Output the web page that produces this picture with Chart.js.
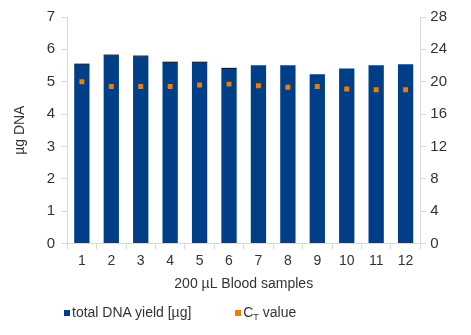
<!DOCTYPE html>
<html>
<head>
<meta charset="utf-8">
<script src="https://cdn.jsdelivr.net/npm/chart.js@4/dist/chart.umd.min.js"></script>
<style>
  html, body { margin: 0; padding: 0; background: #fff; }
  #wrap { position: relative; width: 471px; height: 335px; }
  #legend { position: absolute; left: 64px; top: 304px; font-family: "Liberation Sans", Arial, sans-serif; font-size: 14px; color: #333; white-space: nowrap; }
  #legend span.item { display: inline-block; margin-right: 40px; }
  #legend i { display: inline-block; width: 6px; height: 6px; margin-right: 2px; vertical-align: 1px; }
  #legend sub { font-size: 9px; vertical-align: -3px; }
</style>
</head>
<body>
<div id="wrap">
  <canvas id="c" width="471" height="335"></canvas>
  <div id="legend">
    <span class="item"><i style="background:#003F87"></i>total DNA yield [µg]</span>
    <span class="item"><i style="background:#F07D00"></i>C<sub>T</sub> value</span>
  </div>
</div>
<script>
const categories = ['1','2','3','4','5','6','7','8','9','10','11','12'];
const dnaYield = [5.53, 5.81, 5.78, 5.59, 5.59, 5.40, 5.51, 5.51, 5.23, 5.41, 5.51, 5.54];
const dnaError = [0.01, 0.01, 0.01, 0.01, 0.01, 0.01, 0, 0, 0, 0, 0, 0];
const ctValues = [20.0, 19.4, 19.4, 19.4, 19.6, 19.7, 19.5, 19.3, 19.4, 19.1, 19.0, 19.0];
const leftTicks = [0, 7, 1];
const rightTicks = [0, 28, 4];

const errorBars = {
  id: 'errorBars',
  afterDatasetDraw(chart, args) {
    if (args.index !== 0) return;
    const meta = chart.getDatasetMeta(0);
    const y = chart.scales.y;
    const ctx = chart.ctx;
    ctx.save();
    ctx.strokeStyle = '#1a1a1a';
    ctx.lineWidth = 1.2;
    meta.data.forEach((bar, i) => {
      const e = dnaError[i];
      if (!e) return;
      const v = dnaYield[i];
      const yt = y.getPixelForValue(v + e);
      const hw = bar.width / 2;
      ctx.beginPath();
      ctx.moveTo(bar.x - hw, yt); ctx.lineTo(bar.x + hw, yt);
      ctx.stroke();
    });
    ctx.restore();
  }
};

const font = { family: '"Liberation Sans", Arial, sans-serif', size: 14 };
const txt = '#333';
const axisGray = '#d9d9d9';

new Chart(document.getElementById('c'), {
  data: {
    labels: categories,
    datasets: [
      {
        type: 'bar', label: 'total DNA yield [µg]', data: dnaYield, yAxisID: 'y',
        backgroundColor: '#003F87', barPercentage: 0.52, categoryPercentage: 1.0, order: 2
      },
      {
        type: 'line', label: 'CT value', data: ctValues, yAxisID: 'y2',
        showLine: false, pointStyle: 'rect', pointRadius: 3.5, pointHoverRadius: 3.5,
        backgroundColor: '#F07D00', borderColor: '#F07D00', borderWidth: 0, order: 1
      }
    ]
  },
  options: {
    responsive: false,
    animation: false,
    events: [],
    layout: { padding: { top: 17, right: 20, bottom: 38, left: 8 } },
    plugins: { legend: { display: false }, tooltip: { enabled: false } },
    scales: {
      x: {
        grid: { drawOnChartArea: false, color: axisGray, tickLength: 6, offset: true },
        border: { color: axisGray },
        ticks: { font, color: txt, padding: 3 },
        title: { display: true, text: '200 µL Blood samples', font, color: txt, padding: { top: 4 } }
      },
      y: {
        position: 'left', min: leftTicks[0], max: leftTicks[1],
        grid: { drawOnChartArea: false, color: axisGray, tickLength: 6 },
        border: { color: axisGray },
        ticks: { stepSize: leftTicks[2], font: { ...font, size: 15 }, color: txt, padding: 6 },
        title: { display: true, text: 'µg DNA', font, color: txt, padding: { bottom: 12 } }
      },
      y2: {
        position: 'right', min: rightTicks[0], max: rightTicks[1],
        grid: { drawOnChartArea: false, color: axisGray, tickLength: 6 },
        border: { color: axisGray },
        ticks: { stepSize: rightTicks[2], font: { ...font, size: 15 }, color: txt, padding: 4 }
      }
    }
  },
  plugins: [errorBars]
});
</script>
</body>
</html>
